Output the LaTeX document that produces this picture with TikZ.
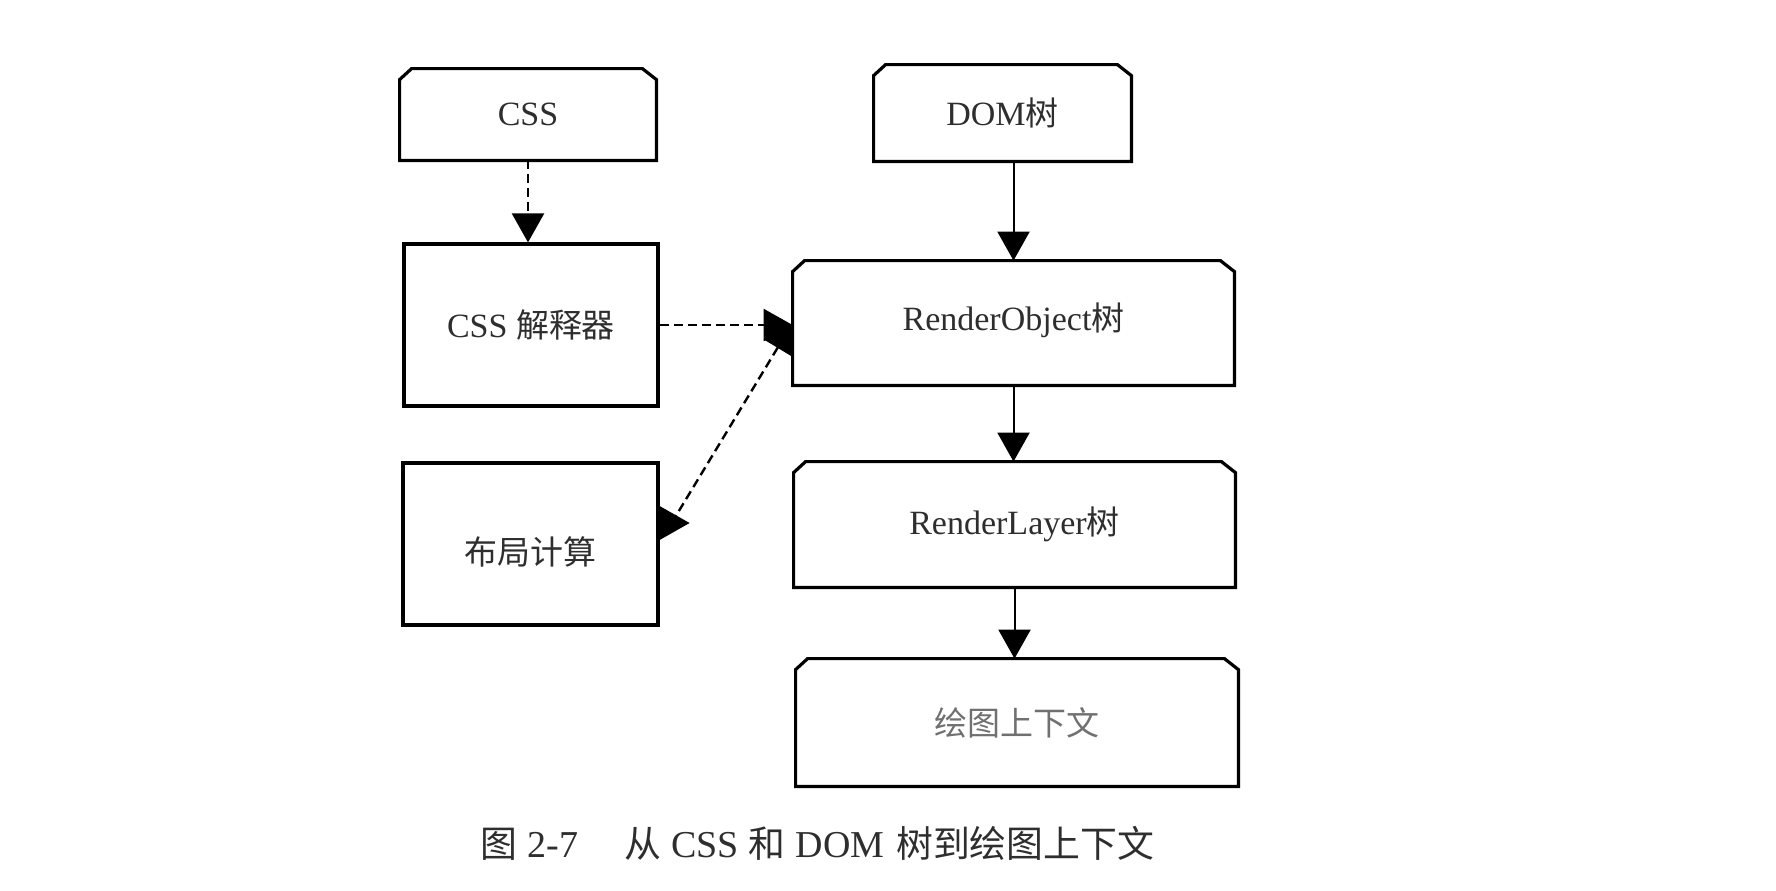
\documentclass[tikz,border=0pt]{standalone}
\usepackage{fontspec}
\setmainfont{Liberation Serif}
\newfontfamily\cjk[Scale=0.97]{Noto Sans CJK SC}
\usetikzlibrary{arrows.meta,calc}
\definecolor{txt}{HTML}{2E2E2E}
\definecolor{lighttxt}{HTML}{707070}
\tikzset{
  boxline/.style={line width=1.6pt, line join=miter, black},
  plainbox/.style={draw=black, line width=1.6pt, inner sep=0pt, text=txt,
    font=\fontsize{17pt}{20pt}\selectfont},
  chambox/.style={draw=none, inner sep=0pt, text=txt,
    font=\fontsize{17pt}{20pt}\selectfont},
  solidarrow/.style={line width=1pt, black, -{Triangle[length=14.5pt,width=16pt]}},
  dasharrow/.style={line width=1.2pt, black, dash pattern=on 4.5pt off 2.5pt,
    -{Triangle[length=14.5pt,width=16pt]}},
}
\begin{document}
\begin{tikzpicture}[x=0.5pt,y=-0.5pt]
\useasboundingbox (0,0) rectangle (1776,890);
\fill[white] (0,0) rectangle (1776,890);

% left column
\node[chambox, minimum width=128pt, minimum height=45.5pt] (css) at (528,114.5) {CSS};
\node[plainbox, minimum width=127pt, minimum height=81pt] (interp) at (531,325) {CSS {\cjk 解释器}};
\node[plainbox, minimum width=127.5pt, minimum height=81pt] (layout) at (530.5,544) {};
\node[text=txt, font=\fontsize{17pt}{20pt}\selectfont, inner sep=0pt] (layouttext) at (530.5,552) {{\cjk 布局计算}};

% right column
\node[chambox, minimum width=128.5pt, minimum height=48pt] (dom) at (1002.5,113) {DOM{\cjk 树}};
\node[chambox, minimum width=220.5pt, minimum height=62pt] (ro) at (1013.5,323) {};
\node[text=txt, font=\fontsize{17pt}{20pt}\selectfont, inner sep=0pt] (rotext) at (1013.5,320) {RenderObject{\cjk 树}};
\node[chambox, minimum width=220.5pt, minimum height=62.5pt] (rl) at (1014.5,524.5) {RenderLayer{\cjk 树}};
\node[chambox, minimum width=221pt, minimum height=63.5pt, text=lighttxt] (ctx) at (1017,722.5) {{\cjk 绘图上下文}};

% chamfered outlines
\foreach \n in {css,dom,ro,rl,ctx}{
  \draw[boxline] (\n.south west) -- ([yshift=-5.5pt]\n.north west) -- ([xshift=6pt]\n.north west)
    -- ([xshift=-7pt]\n.north east) -- ([yshift=-5.5pt]\n.north east) -- (\n.south east) -- cycle;
}

% connectors
\draw[dasharrow] (css.south) -- (css.south |- interp.north);
\draw[solidarrow] (ro.north |- dom.south) -- (ro.north);
\draw[solidarrow] (ro.south) -- (ro.south |- rl.north);
\draw[solidarrow] (rl.south) -- (rl.south |- ctx.north);
\draw[dasharrow] (interp.east) -- (interp.east -| ro.west);

% layout -> RenderObject (with an extra triangle at its start)
\coordinate (lstart) at ([yshift=10.5pt]layout.east);
\fill[black] ([yshift=8.5pt]lstart) -- ([xshift=15pt]lstart) -- ([yshift=-8.5pt]lstart) -- cycle;
\draw[dasharrow] ([xshift=6pt]lstart) -- (ro.west);

% caption
\node[text=txt, font=\fontsize{19pt}{22pt}\selectfont, inner sep=0pt] (cap) at (817.5,843)
  {{\cjk 图}\hspace{5pt}2-7\hspace{23pt}{\cjk 从}\hspace{5pt}CSS\hspace{5pt}{\cjk 和}\hspace{5pt}DOM\hspace{6pt}{\cjk 树到绘图上下文}};
\end{tikzpicture}
\end{document}
